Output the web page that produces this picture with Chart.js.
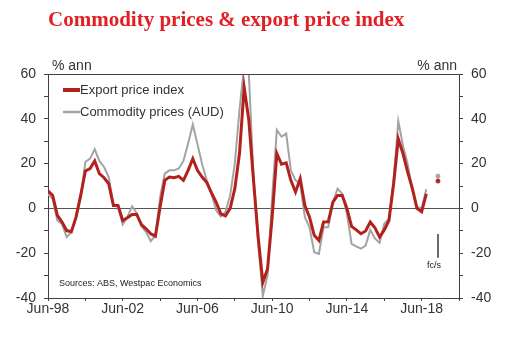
<!DOCTYPE html>
<html>
<head>
<meta charset="utf-8">
<script src="https://cdn.jsdelivr.net/npm/chart.js@4.4.0/dist/chart.umd.min.js"></script>
<style>
  body { margin: 0; background: #fff; }
  canvas { display: block; }
</style>
</head>
<body>
<canvas id="myChart" width="507" height="341"></canvas>
<script>
// quarterly, Jun-98 .. Sep-18, % change over the year
const exportPriceIndex = [
    7.8, 5.8, -3.1, -6.1, -9.9, -10.4, -3.9, 5.8, 16.7, 17.8,
    21.2, 15.5, 13.7, 11, 1.3, 1.3, -5.4, -4.2, -2.7, -2.7,
    -7.2, -9.1, -11.3, -12.4, 0.6, 12.5, 14, 13.7, 14.3, 12.5,
    17, 22.2, 17, 14, 11.5, 6.9, 2.8, -2.4, -3.3, 0,
    8.8, 24.5, 54, 39.4, 12.5, -12.8, -33, -27, -3.9, 24.5,
    19.7, 20.3, 12.5, 7.3, 13.3, 1.3, -3.9, -12, -14.3, -6.1,
    -6, 2.8, 5.8, 5.8, 0, -8, -9.6, -11.3, -10.1, -6.1,
    -8.7, -12.8, -9.6, -5.4, 11, 31, 24.5, 16.3, 9, 0,
    -1.5, 6.5
];
const commodityPrices = [
    6.3, 4.3, -5.4, -6.9, -12.8, -10.6, -4.6, 5, 20.7, 22.2,
    26.4, 21.2, 18.5, 14, 2, 0.6, -7.2, -3.9, 0.9, -2.1,
    -8, -10.6, -14.6, -12.1, 5, 15.5, 17, 17, 17.8, 21.2,
    29, 37.5, 28.7, 19.7, 12.5, 6.6, -0.9, -3.6, -1.6, 5.8,
    20, 43.9, 64, 60, 15, -15.8, -39, -30, 5, 35,
    32, 33.4, 17, 12.5, 11, -3.9, -8.4, -19.6, -20.3, -8.4,
    -8.4, 2.8, 8.8, 6.6, -2.4, -15.8, -17, -18, -16.6, -9.6,
    -13.4, -15.4, -6.9, -4.6, 12.5, 39, 28, 20, 8, 0.6,
    0, 8.5
];

// Westpac forecast dots
const forecastQuarter = 83.5;
const forecastExport = 12.2;
const forecastCommodity = 14.4;
const fcsLine = [-11.5, -22];

const xTickLabels = ['Jun-98', 'Jun-02', 'Jun-06', 'Jun-10', 'Jun-14', 'Jun-18'];
const seriesNames = ['Export price index', 'Commodity prices (AUD)'];

const RED = '#b3211c';
const GREY = '#a3a3a3';
const AXIS = '#404040';
const TEXT = '#333';
const SANS = '"Liberation Sans", Arial, sans-serif';

const toPoints = arr => arr.map((v, i) => ({ x: i, y: v }));

const overlay = {
    id: 'overlay',
    afterDraw(chart) {
        const { ctx, chartArea: a, scales: { x, y } } = chart;
        ctx.save();

        // top border of the plot
        ctx.strokeStyle = AXIS;
        ctx.lineWidth = 1;
        ctx.beginPath();
        ctx.moveTo(a.left, Math.round(a.top) + 0.5);
        ctx.lineTo(a.right, Math.round(a.top) + 0.5);
        ctx.stroke();

        // title
        ctx.fillStyle = '#e31e24';
        ctx.font = 'bold 21px "Liberation Serif", "Times New Roman", serif';
        ctx.textAlign = 'left';
        ctx.textBaseline = 'alphabetic';
        ctx.fillText('Commodity prices & export price index', a.left, 26);

        // unit labels
        ctx.fillStyle = TEXT;
        ctx.font = '14px ' + SANS;
        ctx.fillText('% ann', a.left + 4, a.top - 4);
        ctx.textAlign = 'right';
        ctx.fillText('% ann', a.right - 2, a.top - 4);

        // legend
        const ds = chart.data.datasets;
        ctx.textAlign = 'left';
        ctx.textBaseline = 'middle';
        ctx.font = '13px ' + SANS;
        [0, 1].forEach(k => {
            const ly = a.top + 16 + k * 22;
            ctx.strokeStyle = ds[k].borderColor;
            ctx.lineWidth = k === 0 ? 4 : 2.5;
            ctx.beginPath();
            ctx.moveTo(a.left + 15, ly);
            ctx.lineTo(a.left + 32, ly);
            ctx.stroke();
            ctx.fillStyle = TEXT;
            ctx.fillText(seriesNames[k], a.left + 32, ly);
        });

        // source
        ctx.font = '9px ' + SANS;
        ctx.fillStyle = '#222';
        ctx.fillText('Sources: ABS, Westpac Economics', a.left + 11, a.bottom - 14);

        // fc/s note
        ctx.textAlign = 'right';
        ctx.fillText('fc/s', x.getPixelForValue(forecastQuarter) + 3, y.getPixelForValue(-25.5));

        ctx.restore();
    }
};

const config = {
    type: 'line',
    data: {
        datasets: [{
            label: seriesNames[0],
            data: toPoints(exportPriceIndex),
            borderColor: RED,
            borderWidth: 3,
            pointRadius: 0,
            tension: 0
        }, {
            label: seriesNames[1],
            data: toPoints(commodityPrices),
            borderColor: GREY,
            borderWidth: 2,
            pointRadius: 0,
            tension: 0
        }, {
            label: 'fc export',
            data: [{ x: forecastQuarter, y: forecastExport }],
            borderColor: RED,
            backgroundColor: RED,
            pointRadius: 2,
            showLine: false
        }, {
            label: 'fc commodity',
            data: [{ x: forecastQuarter, y: forecastCommodity }],
            borderColor: GREY,
            backgroundColor: GREY,
            pointRadius: 2,
            showLine: false
        }, {
            label: 'fc/s',
            data: fcsLine.map(v => ({ x: forecastQuarter, y: v })),
            borderColor: '#555',
            borderWidth: 1,
            pointRadius: 0
        }]
    },
    options: {
        responsive: false,
        animation: false,
        layout: { padding: { top: 74, left: 0, right: 0, bottom: 0 } },
        plugins: {
            legend: { display: false },
            tooltip: { enabled: false },
            title: { display: false }
        },
        scales: {
            x: {
                type: 'linear',
                min: 0,
                max: 88,
                afterFit: s => { s.height = 43; },
                border: { display: true, color: AXIS, width: 1 },
                grid: { drawOnChartArea: false, tickLength: 3, color: AXIS },
                ticks: {
                    stepSize: 8,
                    padding: 0,
                    maxRotation: 0,
                    autoSkip: false,
                    color: TEXT,
                    font: { family: SANS, size: 14 },
                    callback: v => (v % 16 === 0 ? xTickLabels[v / 16] : '')
                }
            },
            y: {
                position: 'left',
                min: -40,
                max: 60,
                afterFit: s => { s.width = 48; },
                border: { display: true, color: AXIS, width: 1 },
                grid: {
                    tickLength: 4,
                    tickColor: AXIS,
                    color: c => (c.tick && c.tick.value === 0 ? '#555' : 'rgba(0,0,0,0)')
                },
                ticks: {
                    stepSize: 10,
                    padding: 8,
                    color: TEXT,
                    font: { family: SANS, size: 14 },
                    callback: v => (v % 20 === 0 ? v : '')
                }
            },
            y2: {
                position: 'right',
                min: -40,
                max: 60,
                afterFit: s => { s.width = 48; },
                border: { display: true, color: AXIS, width: 1 },
                grid: { drawOnChartArea: false, tickLength: 4, color: AXIS },
                ticks: {
                    stepSize: 10,
                    padding: 8,
                    color: TEXT,
                    font: { family: SANS, size: 14 },
                    callback: v => (v % 20 === 0 ? v : '')
                }
            }
        }
    },
    plugins: [overlay]
};

const ctx = document.getElementById('myChart').getContext('2d');
window.myChart = new Chart(ctx, config);
</script>
</body>
</html>
